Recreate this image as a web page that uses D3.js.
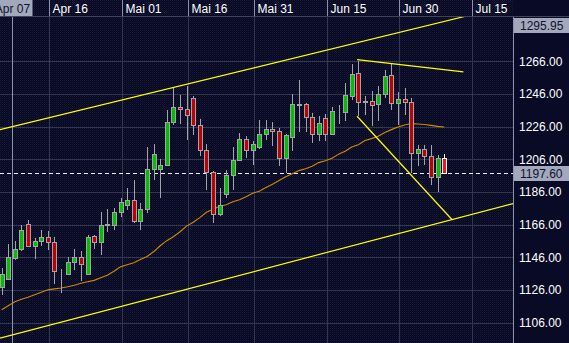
<!DOCTYPE html>
<html>
<head>
<meta charset="utf-8">
<script src="https://cdn.jsdelivr.net/npm/d3@7"></script>
<style>
html, body { margin: 0; padding: 0; background: #090a26; overflow: hidden; }
svg { display: block; font-family: "Liberation Sans", Arial, sans-serif; }
</style>
</head>
<body>
<div id="chart"></div>
<script>
// daily OHLC, first candle = 2010-04-07
const open = [1127.7,1132.8,1145.8,1151.0,1166.3,1152.8,1155.9,1158.3,1155.5,1137.0,
  1136.0,1143.0,1146.1,1135.4,1158.9,1155.3,1166.0,1165.4,1173.4,1177.7,
  1181.2,1167.9,1175.5,1200.0,1200.0,1202.5,1228.8,1238.0,1236.8,1243.6,
  1227.0,1211.9,1198.2,1172.6,1184.7,1196.3,1205.7,1218.4,1211.4,1213.5,
  1221.5,1224.6,1223.2,1206.8,1219.6,1239.5,1239.5,1231.9,1221.7,1231.3,
  1221.5,1235.0,1235.0,1244.5,1258.9,1241.5,1241.5,1239.5,1246.0,1257.4,
  1240.5,1242.9,1241.1,1209.8,1212.3,1207.8,1195.1,1206.8];
const high = [1139.3,1154.2,1155.6,1165.9,1168.5,1157.7,1162.4,1162.2,1158.3,1138.7,
  1146.4,1151.2,1149.9,1159.7,1159.7,1173.4,1175.5,1176.3,1182.2,1188.6,
  1193.5,1179.2,1213.3,1215.5,1206.2,1236.4,1250.1,1245.0,1251.1,1244.5,
  1230.7,1215.5,1198.5,1188.4,1199.6,1213.5,1222.1,1220.0,1217.4,1230.3,
  1230.3,1229.0,1225.4,1221.7,1246.2,1254.2,1240.5,1234.1,1232.7,1233.9,
  1238.0,1239.0,1252.8,1264.0,1266.0,1244.5,1247.6,1250.7,1260.9,1264.4,
  1247.0,1249.7,1243.6,1214.9,1214.9,1214.9,1208.8,1209.2];
const low = [1123.0,1132.2,1144.0,1149.5,1152.0,1145.0,1152.6,1150.6,1129.7,1124.0,
  1135.7,1137.9,1131.7,1134.8,1151.3,1147.1,1161.2,1162.4,1170.6,1175.1,
  1166.9,1162.8,1173.1,1193.5,1182.4,1201.6,1227.2,1227.8,1218.0,1220.6,
  1207.8,1187.3,1166.9,1171.0,1182.2,1186.9,1204.7,1206.8,1202.7,1212.3,
  1217.7,1214.3,1201.7,1197.6,1211.2,1222.6,1222.6,1216.0,1217.4,1217.0,
  1221.1,1227.8,1229.2,1242.5,1232.3,1233.3,1226.1,1229.2,1243.6,1236.4,
  1227.2,1233.3,1197.6,1201.6,1202.7,1190.4,1185.9,1197.6];
const close = [1135.7,1146.1,1151.0,1162.6,1152.6,1156.1,1158.5,1155.3,1137.7,1137.2,
  1143.0,1146.3,1141.8,1158.3,1155.3,1165.7,1166.4,1173.7,1179.6,1181.0,
  1167.9,1175.5,1200.2,1209.2,1202.5,1228.8,1238.0,1236.8,1233.3,1227.0,
  1211.4,1198.2,1172.6,1178.1,1196.3,1205.7,1218.4,1211.4,1215.4,1221.5,
  1224.6,1223.2,1206.8,1220.9,1239.5,1239.3,1231.8,1221.7,1228.2,1221.5,
  1235.3,1235.2,1245.0,1258.3,1240.9,1241.3,1239.0,1246.0,1256.8,1240.5,
  1242.9,1241.1,1209.8,1212.3,1207.8,1195.1,1206.8,1197.6];
// moving average (orange)
const sma = [1113.8,1116.2,1118.7,1120.2,1121.4,1123.0,1124.5,1126.0,1126.6,1127.1,
  1127.9,1128.8,1130.0,1130.9,1131.8,1133.4,1134.9,1137.4,1140.1,1141.4,
  1142.6,1144.6,1146.4,1149.3,1153.0,1156.1,1158.5,1161.6,1165.0,1167.4,
  1170.2,1173.5,1175.4,1177.2,1178.1,1180.0,1181.2,1183.0,1185.2,1186.4,
  1188.6,1190.7,1192.9,1195.3,1197.1,1199.0,1200.2,1201.7,1203.9,1205.1,
  1206.6,1209.1,1210.9,1213.4,1214.9,1217.4,1218.6,1220.1,1222.3,1224.1,
  1225.7,1226.9,1227.8,1227.5,1227.2,1226.7,1226.1,1225.7];

// drawn trend lines, in (candle index, price)
const trendLines = [
  [[-0.25, 1224.1], [70.1, 1293.4]],
  [[-0.25, 1096.4], [77.4, 1178.8]],
  [[53.8, 1267.0], [69.9, 1259.5]],
  [[53.8, 1232.3], [68.2, 1168.9]]
];

const yTicks = [1106, 1126, 1146, 1166, 1186, 1206, 1226, 1246, 1266];
const xTickDates = ["2010-04-16", "2010-05-01", "2010-05-16", "2010-05-31", "2010-06-15", "2010-06-30", "2010-07-15"];
const xTickLabels = ["Apr 16", "Mai 01", "Mai 16", "Mai 31", "Jun 15", "Jun 30", "Jul 15"];
const cursorIndex = 1.5, cursorLabel = "Apr 07";
const lastPrice = 1197.60;
const topMarker = 1295.95;

const W = 569, H = 343;
const plotW = 513, plotTop = 17;

const tradingDays = d3.timeDay.range(new Date(2010, 3, 7), new Date(2010, 6, 16))
  .filter(d => d.getDay() % 6 !== 0);

const x = d3.scaleLinear().domain([-0.25, 77.41]).range([0, plotW]);
const y = d3.scaleLinear().domain([1106, 1266]).range([322.5, 61.2]);

const svg = d3.select("#chart").append("svg")
  .attr("width", W).attr("height", H);

const defs = svg.append("defs");
const pat = defs.append("pattern").attr("id", "dots")
  .attr("width", 2).attr("height", 2).attr("patternUnits", "userSpaceOnUse");
pat.append("rect").attr("width", 2).attr("height", 2).attr("fill", "#05061a");
pat.append("rect").attr("width", 1).attr("height", 1).attr("fill", "#171b44");
pat.append("rect").attr("x", 1).attr("y", 1).attr("width", 1).attr("height", 1).attr("fill", "#0e112f");
defs.append("clipPath").attr("id", "plotclip")
  .append("rect").attr("x", 0).attr("y", plotTop).attr("width", plotW).attr("height", H - plotTop);

// backgrounds
svg.append("rect").attr("width", plotW).attr("height", H).attr("fill", "url(#dots)");
svg.append("rect").attr("x", plotW).attr("width", W - plotW).attr("height", H).attr("fill", "#090a26");

const plot = svg.append("g").attr("clip-path", "url(#plotclip)");

// grid
plot.selectAll(".hgrid").data(yTicks).enter().append("line")
  .attr("x1", 0).attr("x2", plotW)
  .attr("y1", d => Math.round(y(d)) + 0.5).attr("y2", d => Math.round(y(d)) + 0.5)
  .attr("stroke", "#33374f").attr("stroke-width", 1);

const tickIdx = xTickDates.map(s => {
  const t = d3.timeParse("%Y-%m-%d")(s);
  return tradingDays.findIndex(d => d >= t);
});
const tickX = tickIdx.map(i => Math.round(x(i) + 1.5) + 0.5);

plot.selectAll(".vgrid").data(tickX).enter().append("line")
  .attr("x1", d => d).attr("x2", d => d)
  .attr("y1", plotTop).attr("y2", H)
  .attr("stroke", "#33374f").attr("stroke-width", 1);

// cursor line
const cx = Math.round(x(cursorIndex)) + 0.5;
plot.append("line").attr("x1", cx).attr("x2", cx).attr("y1", plotTop).attr("y2", H)
  .attr("stroke", "#9097b2").attr("stroke-width", 1);

// last price dashed line
const yl = Math.round(y(lastPrice)) + 0.5;
plot.append("line").attr("x1", 0).attr("x2", plotW).attr("y1", yl).attr("y2", yl)
  .attr("stroke", "#e8e8f0").attr("stroke-width", 1).attr("stroke-dasharray", "4,3");

// moving average
plot.append("path").datum(sma)
  .attr("fill", "none").attr("stroke", "#d08a00").attr("stroke-width", 1.1)
  .attr("d", d3.line().x((d, i) => x(i)).y(d => y(d)));

// candles
const candles = open.map((o, i) => ({i, o, h: high[i], l: low[i], c: close[i]}));
const g = plot.selectAll(".candle").data(candles).enter().append("g");
g.append("line")
  .attr("x1", d => Math.round(x(d.i)) + 0.5).attr("x2", d => Math.round(x(d.i)) + 0.5)
  .attr("y1", d => Math.round(y(d.h))).attr("y2", d => Math.round(y(d.l)))
  .attr("stroke", d => d.i === candles.length - 1 ? "#ffffff" : "#a4a4a8");
g.append("rect")
  .attr("x", d => Math.round(x(d.i)) - 1.5)
  .attr("y", d => Math.round(y(Math.max(d.o, d.c))) + 0.5)
  .attr("width", 4)
  .attr("height", d => Math.max(0, Math.round(y(Math.min(d.o, d.c))) - Math.round(y(Math.max(d.o, d.c)))))
  .attr("fill", d => d.i === candles.length - 1 ? "#ff1010" : (d.c >= d.o ? "#00c000" : "#c00000"))
  .attr("stroke", d => d.i === candles.length - 1 ? "#ffffff" : "#a4a4a8")
  .attr("stroke-width", 1);

// trend lines
plot.selectAll(".trend").data(trendLines).enter().append("line")
  .attr("x1", d => x(d[0][0])).attr("y1", d => y(d[0][1]))
  .attr("x2", d => x(d[1][0])).attr("y2", d => y(d[1][1]))
  .attr("stroke", "#ffff00").attr("stroke-width", 1.2);

// top date band
svg.append("line").attr("x1", 0).attr("x2", W).attr("y1", 16.5).attr("y2", 16.5)
  .attr("stroke", "#40445e");
svg.selectAll(".xdiv").data(tickX).enter().append("line")
  .attr("x1", d => d).attr("x2", d => d).attr("y1", 0).attr("y2", 16)
  .attr("stroke", "#8c92ac");
svg.selectAll(".xlab").data(xTickLabels).enter().append("text")
  .attr("x", (d, i) => tickX[i] + 3).attr("y", 13)
  .attr("fill", "#ffffff").attr("font-size", 12)
  .text(d => d);

svg.append("rect").attr("x", cx - 20).attr("y", 0).attr("width", 40).attr("height", 16)
  .attr("fill", "#a3a8bd");
svg.append("text").attr("x", cx).attr("y", 13).attr("text-anchor", "middle")
  .attr("fill", "#10122e").attr("font-size", 12).text(cursorLabel);

// right price axis
svg.append("line").attr("x1", plotW + 0.5).attr("x2", plotW + 0.5).attr("y1", plotTop).attr("y2", H)
  .attr("stroke", "#8c92ac");
const yAxis = svg.append("g").attr("transform", `translate(${plotW},0)`)
  .call(d3.axisRight(y).tickValues(yTicks).tickSize(0).tickPadding(6).tickFormat(d3.format(".2f")));
yAxis.select(".domain").remove();
yAxis.selectAll("text").attr("fill", "#ffffff").attr("font-size", 12)
  .attr("font-family", "Liberation Sans, Arial, sans-serif");

const markers = [
  {v: lastPrice, yc: y(lastPrice)},
  {v: topMarker, yc: Math.max(y(topMarker), plotTop + 8)}
];
const mk = svg.selectAll(".mk").data(markers).enter().append("g");
mk.append("rect").attr("x", plotW + 1).attr("y", d => Math.round(d.yc) - 7)
  .attr("width", W - plotW - 1).attr("height", 15).attr("fill", "#a3a8bd");
mk.append("text").attr("x", plotW + 7).attr("y", d => Math.round(d.yc) + 4.5)
  .attr("fill", "#10122e").attr("font-size", 12)
  .text(d => d3.format(".2f")(d.v));
</script>
</body>
</html>
